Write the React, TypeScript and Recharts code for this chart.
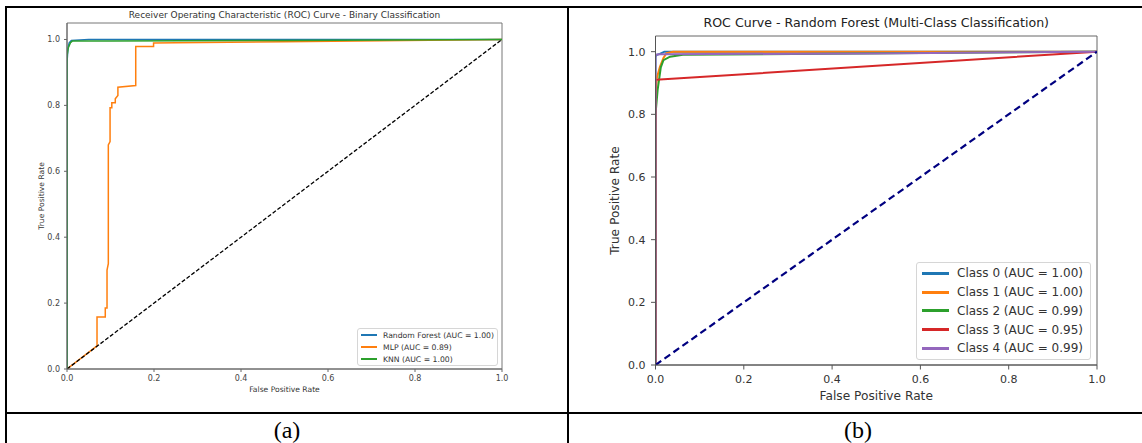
import React from 'react';
import { LineChart, Line, XAxis, YAxis, Legend, ReferenceArea } from 'recharts';

// ---------- shared ticks ----------
const rateTicks = [0, 0.2, 0.4, 0.6, 0.8, 1.0];

// ---------- (a) binary classification ----------
const binaryTitle = 'Receiver Operating Characteristic (ROC) Curve - Binary Classification';
const rfName = 'Random Forest (AUC = 1.00)';
const rfFpr = [0, 0, 0.002, 0.005, 0.01, 0.05, 1];
const rfTpr = [0, 0.93, 0.97, 0.99, 0.997, 1.0, 1.0];

const mlpName = 'MLP (AUC = 0.89)';
const mlpFpr = [0, 0.069, 0.069, 0.088, 0.088, 0.092, 0.092, 0.095, 0.095, 0.099, 0.099, 0.103, 0.103, 0.111, 0.111, 0.117, 0.117, 0.158, 0.158, 0.199, 0.199, 0.25, 0.5, 1];
const mlpTpr = [0, 0.07, 0.158, 0.158, 0.185, 0.185, 0.3, 0.32, 0.68, 0.69, 0.793, 0.793, 0.808, 0.808, 0.82, 0.83, 0.855, 0.86, 0.979, 0.979, 0.989, 0.99, 0.993, 1.0];

const knnName = 'KNN (AUC = 1.00)';
const knnFpr = [0, 0, 0.003, 0.008, 0.012, 0.1, 0.5, 1];
const knnTpr = [0, 0.95, 0.975, 0.99, 0.995, 0.995, 0.997, 1.0];

const binaryLegendOrder = [rfName, mlpName, knnName];

const chanceFpr = [0, 1];
const chanceTpr = [0, 1];

// ---------- (b) multi-class ----------
const multiTitle = 'ROC Curve - Random Forest (Multi-Class Classification)';
const class0Name = 'Class 0 (AUC = 1.00)';
const class0Fpr = [0, 0, 0.003, 0.01, 0.02, 1];
const class0Tpr = [0, 0.985, 0.99, 0.993, 1.0, 1.0];

const class1Name = 'Class 1 (AUC = 1.00)';
const class1Fpr = [0, 0, 0.003, 0.01, 0.018, 0.025, 0.04, 1];
const class1Tpr = [0, 0.85, 0.916, 0.952, 0.98, 0.995, 1.0, 1.0];

const class2Name = 'Class 2 (AUC = 0.99)';
const class2Fpr = [0, 0, 0.005, 0.012, 0.018, 0.033, 0.062, 1];
const class2Tpr = [0, 0.8, 0.88, 0.95, 0.973, 0.984, 0.99, 1.0];

const class3Name = 'Class 3 (AUC = 0.95)';
const class3Fpr = [0, 0, 0.01, 1];
const class3Tpr = [0, 0.91, 0.911, 1.0];

const class4Name = 'Class 4 (AUC = 0.99)';
const class4Fpr = [0, 0, 0.01, 0.5, 1];
const class4Tpr = [0, 0.99, 0.992, 0.994, 1.0];

const multiLegendOrder = [class0Name, class1Name, class2Name, class3Name, class4Name];

const captions = ['(a)', '(b)'];

const FONT = '"DejaVu Sans", Verdana, sans-serif';

const pts = (xs: number[], ys: number[]) => xs.map((x, i) => ({ x, y: ys[i] }));
const fmt = (v: number) => v.toFixed(1);

type LegendOpts = { fontSize: number; rowH: number; handle: number; lw: number; gap: number; pad: string; width: number; order: string[] };
const makeLegend = (o: LegendOpts) => (props: any) => {
  const items = (props.payload || [])
    .filter((p: any) => p.type !== 'none')
    .slice()
    .sort((a: any, b: any) => o.order.indexOf(a.value) - o.order.indexOf(b.value));
  return (
    <div
      style={{
        width: o.width,
        boxSizing: 'border-box',
        border: '1px solid #d6d6d6',
        borderRadius: 3,
        background: 'rgba(255,255,255,0.85)',
        padding: o.pad,
        fontFamily: FONT,
        fontSize: o.fontSize,
        color: '#333',
      }}
    >
      {items.map((it: any) => (
        <div key={it.value} style={{ display: 'flex', alignItems: 'center', height: o.rowH, whiteSpace: 'nowrap' }}>
          <span style={{ display: 'inline-block', width: o.handle, height: o.lw, background: it.color, marginRight: o.gap }} />
          <span>{it.value}</span>
        </div>
      ))}
    </div>
  );
};

const axisLabel = (text: string, fontSize: number, mode: 'x' | 'y', off: number) => (props: any) => {
  const vb = props.viewBox || {};
  if (mode === 'x') {
    return (
      <text x={vb.x + vb.width / 2} y={vb.y + off} textAnchor="middle" dominantBaseline="central" fontFamily={FONT} fontSize={fontSize} fill="#333">
        {text}
      </text>
    );
  }
  const cx = vb.x + off;
  const cy = vb.y + vb.height / 2;
  return (
    <text x={cx} y={cy} transform={`rotate(-90, ${cx}, ${cy})`} textAnchor="middle" dominantBaseline="central" fontFamily={FONT} fontSize={fontSize} fill="#333">
      {text}
    </text>
  );
};

export default function App() {
  const A = { w: 567, h: 413, top: 23, right: 65, bottom: 14, yW: 67, xH: 30 };
  const B = { left: 569, w: 573, h: 413, top: 36, right: 45, bottom: 18, yW: 86.5, xH: 30 };

  const tickA = { fontFamily: FONT, fontSize: 8, fill: '#444' };
  const tickB = { fontFamily: FONT, fontSize: 11, fill: '#333' };

  return (
    <div style={{ position: 'absolute', left: 0, top: 0, width: 1142, height: 443, overflow: 'hidden', background: '#fff' }}>
      {/* table borders */}
      <div style={{ position: 'absolute', left: 5, top: 6, width: 1137, height: 2, background: '#000' }} />
      <div style={{ position: 'absolute', left: 5, top: 6, width: 2, height: 437, background: '#000' }} />
      <div style={{ position: 'absolute', left: 567, top: 6, width: 2, height: 437, background: '#000' }} />
      <div style={{ position: 'absolute', left: 5, top: 412, width: 1137, height: 2, background: '#000' }} />

      {/* captions */}
      <div style={{ position: 'absolute', left: 7, top: 416, width: 560, textAlign: 'center', fontFamily: '"Liberation Serif", serif', fontSize: 24, lineHeight: '28px' }}>{captions[0]}</div>
      <div style={{ position: 'absolute', left: 569, top: 416, width: 578, textAlign: 'center', fontFamily: '"Liberation Serif", serif', fontSize: 24, lineHeight: '28px' }}>{captions[1]}</div>

      {/* chart (a) */}
      <div style={{ position: 'absolute', left: 0, top: 0, width: A.w, height: A.h }}>
        <div style={{ position: 'absolute', left: A.yW - 10, top: 9, width: A.w - A.yW - A.right + 20, textAlign: 'center', fontFamily: FONT, fontSize: 9, lineHeight: '12px', color: '#333', whiteSpace: 'nowrap' }}>
          {binaryTitle}
        </div>
        <LineChart width={A.w} height={A.h} margin={{ top: A.top, right: A.right, bottom: A.bottom, left: 0 }}>
          <XAxis
            dataKey="x"
            type="number"
            domain={[0, 1]}
            ticks={rateTicks}
            tickFormatter={fmt}
            allowDataOverflow
            height={A.xH}
            tick={tickA}
            tickSize={3}
            tickMargin={3.5}
            stroke="#666"
            label={{ content: axisLabel('False Positive Rate', 7.6, 'x', 20) }}
          />
          <YAxis
            dataKey="y"
            type="number"
            domain={[0, 1.05]}
            ticks={rateTicks}
            tickFormatter={fmt}
            allowDataOverflow
            width={A.yW}
            tick={tickA}
            tickSize={3}
            tickMargin={4}
            stroke="#666"
            label={{ content: axisLabel('True Positive Rate', 7.6, 'y', 41) }}
          />
          <ReferenceArea x1={0} x2={1} y1={0} y2={1.05} fill="none" stroke="#777" strokeWidth={1} ifOverflow="visible" />
          <Line data={pts(rfFpr, rfTpr)} dataKey="y" name={rfName} stroke="#1f77b4" strokeWidth={1.5} dot={false} type="linear" isAnimationActive={false} />
          <Line data={pts(mlpFpr, mlpTpr)} dataKey="y" name={mlpName} stroke="#ff7f0e" strokeWidth={1.5} dot={false} type="linear" isAnimationActive={false} />
          <Line data={pts(knnFpr, knnTpr)} dataKey="y" name={knnName} stroke="#2ca02c" strokeWidth={1.5} dot={false} type="linear" isAnimationActive={false} />
          <Line data={pts(chanceFpr, chanceTpr)} dataKey="y" name="chance" legendType="none" stroke="#000" strokeWidth={1.3} strokeDasharray="4 2" dot={false} type="linear" isAnimationActive={false} />
          <Legend
            layout="vertical"
            align="center"
            verticalAlign="middle"
            wrapperStyle={{ left: 357, top: 328, width: 141 }}
            content={makeLegend({ fontSize: 7.7, rowH: 12, handle: 16, lw: 2, gap: 6, pad: '0px 3px', width: 141, order: binaryLegendOrder })}
          />
        </LineChart>
      </div>

      {/* chart (b) */}
      <div style={{ position: 'absolute', left: B.left, top: 0, width: B.w, height: B.h }}>
        <div style={{ position: 'absolute', left: B.yW - 10, top: 14, width: B.w - B.yW - B.right + 20, textAlign: 'center', fontFamily: FONT, fontSize: 12.6, lineHeight: '18px', color: '#222', whiteSpace: 'nowrap' }}>
          {multiTitle}
        </div>
        <LineChart width={B.w} height={B.h} margin={{ top: B.top, right: B.right, bottom: B.bottom, left: 0 }}>
          <XAxis
            dataKey="x"
            type="number"
            domain={[0, 1]}
            ticks={rateTicks}
            tickFormatter={fmt}
            allowDataOverflow
            height={B.xH}
            tick={tickB}
            tickSize={4.5}
            tickMargin={5.5}
            stroke="#555"
            label={{ content: axisLabel('False Positive Rate', 12.2, 'x', 31) }}
          />
          <YAxis
            dataKey="y"
            type="number"
            domain={[0, 1.05]}
            ticks={rateTicks}
            tickFormatter={fmt}
            allowDataOverflow
            width={B.yW}
            tick={tickB}
            tickSize={4.5}
            tickMargin={5.5}
            stroke="#555"
            label={{ content: axisLabel('True Positive Rate', 12.2, 'y', 46) }}
          />
          <ReferenceArea x1={0} x2={1} y1={0} y2={1.05} fill="none" stroke="#666" strokeWidth={1} ifOverflow="visible" />
          <Line data={pts(class0Fpr, class0Tpr)} dataKey="y" name={class0Name} stroke="#1f77b4" strokeWidth={2} dot={false} type="linear" isAnimationActive={false} />
          <Line data={pts(class1Fpr, class1Tpr)} dataKey="y" name={class1Name} stroke="#ff7f0e" strokeWidth={2} dot={false} type="linear" isAnimationActive={false} />
          <Line data={pts(class2Fpr, class2Tpr)} dataKey="y" name={class2Name} stroke="#2ca02c" strokeWidth={2} dot={false} type="linear" isAnimationActive={false} />
          <Line data={pts(class3Fpr, class3Tpr)} dataKey="y" name={class3Name} stroke="#d62728" strokeWidth={2} dot={false} type="linear" isAnimationActive={false} />
          <Line data={pts(class4Fpr, class4Tpr)} dataKey="y" name={class4Name} stroke="#9467bd" strokeWidth={2} dot={false} type="linear" isAnimationActive={false} />
          <Line data={pts(chanceFpr, chanceTpr)} dataKey="y" name="chance" legendType="none" stroke="#000080" strokeWidth={2.2} strokeDasharray="7 4" dot={false} type="linear" isAnimationActive={false} />
          <Legend
            layout="vertical"
            align="center"
            verticalAlign="middle"
            wrapperStyle={{ left: 347, top: 262, width: 175 }}
            content={makeLegend({ fontSize: 12, rowH: 18.75, handle: 27, lw: 3, gap: 8, pad: '1px 5px', width: 175, order: multiLegendOrder })}
          />
        </LineChart>
      </div>
    </div>
  );
}
